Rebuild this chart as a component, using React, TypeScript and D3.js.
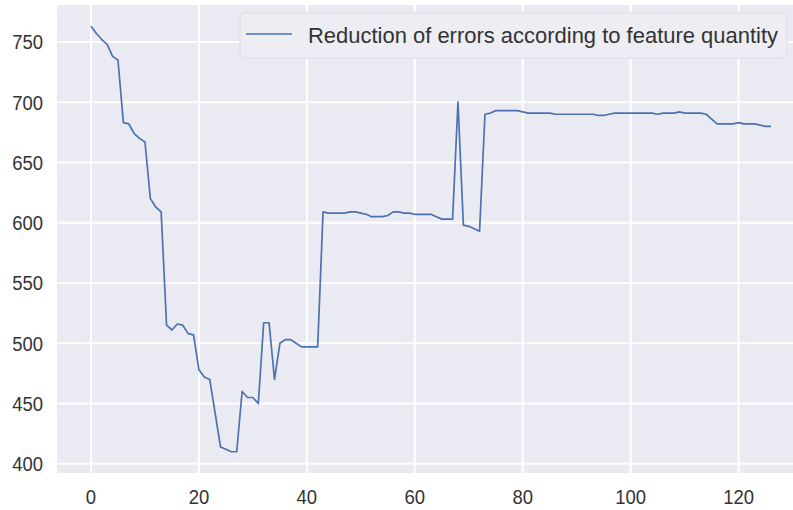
import React from "react";
import * as d3 from "d3";

const errorValues: number[] = [
  763, 757, 752, 748, 738, 735, 683, 682, 674, 670,
  667, 620, 613, 609, 515, 511, 516, 515, 508, 507,
  478, 472, 470, 442, 414, 412, 410, 410, 460, 455,
  455, 450, 517, 517, 470, 500, 503, 503, 500, 497,
  497, 497, 497, 609, 608, 608, 608, 608, 609, 609,
  608, 607, 605, 605, 605, 606, 609, 609, 608, 608,
  607, 607, 607, 607, 605, 603, 603, 603, 700, 598,
  597, 595, 593, 690, 691, 693, 693, 693, 693, 693,
  692, 691, 691, 691, 691, 691, 690, 690, 690, 690,
  690, 690, 690, 690, 689, 689, 690, 691, 691, 691,
  691, 691, 691, 691, 691, 690, 691, 691, 691, 692,
  691, 691, 691, 691, 690, 686, 682, 682, 682, 682,
  683, 682, 682, 682, 681, 680, 680,
];
const xTicks: number[] = [0, 20, 40, 60, 80, 100, 120];
const yTicks: number[] = [400, 450, 500, 550, 600, 650, 700, 750];
const legendLabel = "Reduction of errors according to feature quantity";

const W = 793;
const H = 510;
const plotLeft = 57;
const plotTop = 5;
const plotBottom = 473;

export default function App() {
  const n = errorValues.length;
  const xMargin = (n - 1) * 0.05;
  const x = d3.scaleLinear().domain([-xMargin, n - 1 + xMargin]).range([plotLeft, 805]);
  const yMin = d3.min(errorValues)!;
  const yMax = d3.max(errorValues)!;
  const ym = (yMax - yMin) * 0.05;
  const y = d3.scaleLinear().domain([yMin - ym, yMax + ym]).range([plotBottom, plotTop]);
  const line = d3
    .line<number>()
    .x((_, i) => x(i))
    .y((d) => y(d));

  const font = "'Liberation Sans', Arial, Helvetica, sans-serif";
  const tickColor = "#333333";

  return (
    <div style={{ position: "fixed", left: 0, top: 0, width: W, height: H, background: "#fff" }}>
      <svg width={W} height={H} style={{ display: "block" }}>
        <defs>
          <clipPath id="plotClip">
            <rect x={plotLeft} y={plotTop} width={W - plotLeft} height={plotBottom - plotTop} />
          </clipPath>
        </defs>
        <rect x={plotLeft} y={plotTop} width={W - plotLeft} height={plotBottom - plotTop} fill="#EAEAF2" />
        <g clipPath="url(#plotClip)">
          {xTicks.map((t) => (
            <line key={"gx" + t} x1={x(t)} x2={x(t)} y1={plotTop} y2={plotBottom} stroke="#fff" strokeWidth={2} />
          ))}
          {yTicks.map((t) => (
            <line key={"gy" + t} x1={plotLeft} x2={W} y1={y(t)} y2={y(t)} stroke="#fff" strokeWidth={2} />
          ))}
          <path d={line(errorValues) || ""} fill="none" stroke="#4C72B0" strokeWidth={1.7} strokeLinejoin="round" />
        </g>
        {yTicks.map((t) => (
          <text
            key={"ly" + t}
            transform={`translate(43, ${y(t)}) scale(0.88, 1)`}
            textAnchor="end"
            dominantBaseline="central"
            fontFamily={font}
            fontSize={21}
            fill={tickColor}
          >
            {t}
          </text>
        ))}
        {xTicks.map((t) => (
          <text
            key={"lx" + t}
            transform={`translate(${x(t)}, 504) scale(0.88, 1)`}
            textAnchor="middle"
            fontFamily={font}
            fontSize={21}
            fill={tickColor}
          >
            {t}
          </text>
        ))}
        <g>
          <rect x={240} y={13} width={547} height={45} rx={4} fill="#EDEDF3" stroke="#DCDCE3" strokeWidth={1} />
          <line x1={246} x2={292} y1={34} y2={34} stroke="#4C72B0" strokeWidth={1.7} />
          <text
            x={308}
            y={42.5}
            fontFamily={font}
            fontSize={22}
            fill={tickColor}
            textLength={470}
            lengthAdjust="spacingAndGlyphs"
          >
            {legendLabel}
          </text>
        </g>
      </svg>
    </div>
  );
}
